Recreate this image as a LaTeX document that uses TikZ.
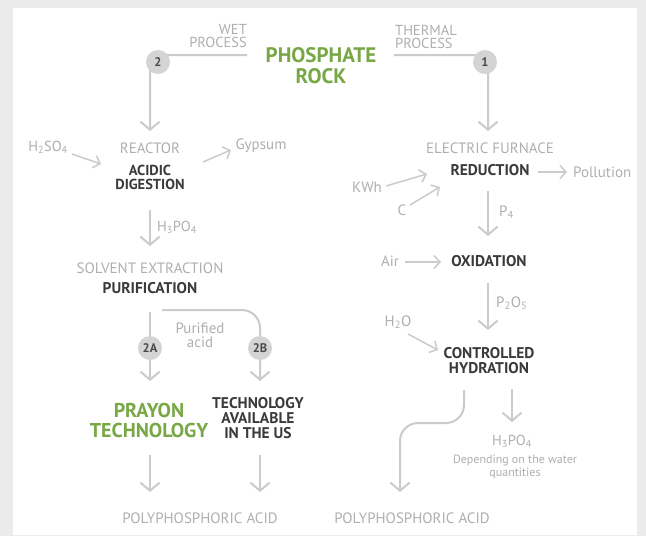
\documentclass[tikz,border=0pt]{standalone}
\usepackage{fontspec}
\setmainfont{PT Sans}
\usetikzlibrary{arrows.meta}
\definecolor{bgc}{HTML}{EBEBEB}
\definecolor{txg}{HTML}{AFAFAF}
\definecolor{lnc}{HTML}{CBCBCB}
\definecolor{dk}{HTML}{3A3A3A}
\definecolor{grn}{HTML}{77A845}
\definecolor{cf}{HTML}{D4D4D4}
\definecolor{ct}{HTML}{4A4A4A}
\newcommand{\fs}[2]{\fontsize{#1}{#2}\selectfont}
\begin{document}
\begin{tikzpicture}[x=1pt,y=-1pt,
  gr/.style={text=txg,inner sep=0pt,font=\fs{15}{15}},
  bd/.style={text=dk,inner sep=0pt,font=\bfseries\fs{15.5}{15},align=center},
  gn/.style={text=grn,inner sep=0pt,font=\bfseries\fs{20}{20},align=center},
  circ/.style={circle,fill=cf,minimum size=24pt,inner sep=0pt,text=ct,font=\bfseries\fs{12.5}{12}},
  mainarr/.style={draw=lnc,line width=2pt,rounded corners=14pt,-{Straight Barb[length=8pt,width=19pt,line width=2pt]}},
  sidearr/.style={draw=lnc,line width=1.5pt,-{Straight Barb[length=6pt,width=13pt,line width=1.5pt]}}]
\fill[bgc] (0,0) rectangle (646,536);
\fill[white] (13,8) rectangle (637,535);
\useasboundingbox (0,0) rectangle (646,536);

% coordinates for connectors
\coordinate (wetS) at (247,55);  \coordinate (wetK) at (150,55);  \coordinate (wetE) at (150,131);
\coordinate (thS) at (394,55);   \coordinate (thK) at (488,55);   \coordinate (thE) at (488,131);
\coordinate (hsS) at (72,154);   \coordinate (hsE) at (101,164);
\coordinate (gyS) at (203,162);  \coordinate (gyE) at (231,150);
\coordinate (l1S) at (150,210);  \coordinate (l1E) at (150,246);
\coordinate (aS) at (150,312);   \coordinate (aE) at (150,381);
\coordinate (bS) at (162,310);   \coordinate (bK) at (260,310);  \coordinate (bE) at (260,381);
\coordinate (pa1S) at (150,455); \coordinate (pa1E) at (150,492);
\coordinate (pb1S) at (260,455); \coordinate (pb1E) at (260,492);
\coordinate (kwS) at (386,186);  \coordinate (kwE) at (427,174);
\coordinate (cS) at (410,205);   \coordinate (cE) at (440,187);
\coordinate (poS) at (538,172);  \coordinate (poE) at (567,172);
\coordinate (r1S) at (488,191);  \coordinate (r1E) at (488,236);
\coordinate (arS) at (405,262);  \coordinate (arE) at (441,262);
\coordinate (r2S) at (488,283);  \coordinate (r2E) at (488,330);
\coordinate (hoS) at (408,334);  \coordinate (hoE) at (438,350);
\coordinate (cvS) at (464,390);  \coordinate (cvK1) at (464,423); \coordinate (cvK2) at (400,423); \coordinate (cvE) at (400,492);
\coordinate (r3S) at (512,389);  \coordinate (r3E) at (512,422);

% connectors
\draw[mainarr] (wetS) -- (wetK) -- (wetE);
\draw[mainarr] (thS) -- (thK) -- (thE);
\draw[sidearr] (hsS) -- (hsE);
\draw[sidearr] (gyS) -- (gyE);
\draw[mainarr] (l1S) -- (l1E);
\draw[mainarr] (aS) -- (aE);
\draw[mainarr,rounded corners=18pt] (bS) -- (bK) -- (bE);
\draw[mainarr] (pa1S) -- (pa1E);
\draw[mainarr] (pb1S) -- (pb1E);
\draw[sidearr] (kwS) -- (kwE);
\draw[sidearr] (cS) -- (cE);
\draw[sidearr] (poS) -- (poE);
\draw[mainarr] (r1S) -- (r1E);
\draw[sidearr] (arS) -- (arE);
\draw[mainarr] (r2S) -- (r2E);
\draw[sidearr] (hoS) -- (hoE);
\draw[mainarr,rounded corners=18pt] (cvS) -- (cvK1) -- (cvK2) -- (cvE);
\draw[mainarr] (r3S) -- (r3E);

% circles
\node[circ] (c2) at (158,62) {2};
\node[circ] (c1) at (485,62) {1};
\node[circ] (c2a) at (150,348) {2A};
\node[circ] (c2b) at (260,348) {2B};

% texts
\node[gr,anchor=east,align=right,font=\fs{14.5}{13}] (wet) at (247,36.5) {WET\\PROCESS};
\node[gr,anchor=west,align=left,font=\fs{14.5}{13}] (thermal) at (395,36.5) {THERMAL\\PROCESS};
\node[gn,font=\bfseries\fs{21}{21}] (rock) at (321,66) {PHOSPHATE\\ROCK};
\node[gr] (reactor) at (150,148) {REACTOR};
\node[bd,font=\bfseries\fs{14.5}{14}] (acidic) at (150,177) {ACIDIC\\DIGESTION};
\node[gr,font=\fs{14.5}{15}] (h2so4) at (48,147) {H\textsubscript{2}SO\textsubscript{4}};
\node[gr] (gypsum) at (261,146) {Gypsum};
\node[gr,anchor=west,font=\fs{14.5}{15}] (h3po4a) at (157,227) {H\textsubscript{3}PO\textsubscript{4}};
\node[gr] (solvent) at (150,268) {SOLVENT EXTRACTION};
\node[bd] (purif) at (150,288) {PURIFICATION};
\node[gr,align=center,font=\fs{15}{14}] (purified) at (200,335) {Purified\\acid};
\node[gn] (prayon) at (149,420) {PRAYON\\TECHNOLOGY};
\node[bd] (techus) at (258,418) {TECHNOLOGY\\AVAILABLE\\IN THE US};
\node[gr] (poly1) at (200,518) {POLYPHOSPHORIC ACID};
\node[gr] (poly2) at (412,518) {POLYPHOSPHORIC ACID};
\node[gr] (furnace) at (490,148) {ELECTRIC FURNACE};
\node[bd] (reduction) at (490,170) {REDUCTION};
\node[gr,anchor=west] (pollution) at (573,172) {Pollution};
\node[gr] (kwh) at (367,187) {KWh};
\node[gr] (carbon) at (402,210) {C};
\node[gr,anchor=west] (p4) at (499,212) {P\textsubscript{4}};
\node[gr] (air) at (390,261) {Air};
\node[bd] (oxidation) at (489,261) {OXIDATION};
\node[gr,anchor=west] (p2o5) at (496,303) {P\textsubscript{2}O\textsubscript{5}};
\node[gr] (h2o) at (398,322) {H\textsubscript{2}O};
\node[bd] (hydration) at (489,360.5) {CONTROLLED\\HYDRATION};
\node[gr,font=\fs{14.5}{15}] (h3po4b) at (512,441) {H\textsubscript{3}PO\textsubscript{4}};
\node[gr,align=center,font=\fs{12}{13}] (depending) at (515,466.5) {Depending on the water\\quantities};
\end{tikzpicture}
\end{document}
